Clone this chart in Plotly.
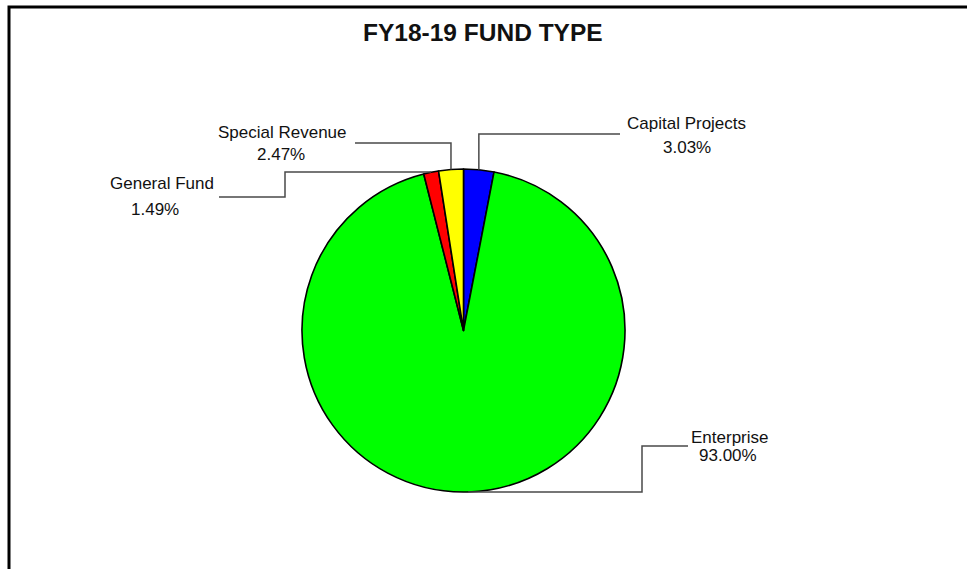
import math
import plotly.graph_objects as go

# ---- data ----
categories = ["Capital Projects", "Enterprise", "General Fund", "Special Revenue"]
values = [3.03, 93.00, 1.49, 2.47]
pct_labels = ["3.03%", "93.00%", "1.49%", "2.47%"]
colors = ["#0000FF", "#00FF00", "#FF0000", "#FFFF00"]
title_text = "FY18-19 FUND TYPE"

# ---- layout constants (pixels) ----
W, H = 967, 569
CX, CY, R = 463.5, 330.5, 161.5

def px(x):
    return x / W

def py(y):
    return 1 - y / H

fig = go.Figure()
fig.add_trace(go.Pie(
    labels=categories,
    values=values,
    sort=False,
    direction="clockwise",
    rotation=0,
    marker=dict(colors=colors, line=dict(color="#000000", width=1.6)),
    textinfo="none",
    hoverinfo="label+percent",
    showlegend=False,
    domain=dict(x=[px(CX - R), px(CX + R)], y=[py(CY + R), py(CY - R)]),
))

# leader-line anchor points on the slice edges, from the data
total = sum(values)
anchors = []
cum = 0.0
for v in values:
    th = 2 * math.pi * (cum + v / 2) / total
    anchors.append((CX + R * math.sin(th), CY - R * math.cos(th)))
    cum += v

# leader elbow paths (styling) per label
elbows = {
    "Capital Projects": [("v", 134), ("h", 620)],
    "Enterprise": [("h", 642), ("v", 446), ("h", 688)],
    "General Fund": [("h", 285), ("v", 197), ("h", 219)],
    "Special Revenue": [("v", 143), ("h", 355)],
}
label_pos = {
    "Capital Projects": ((686, 123), (687, 147)),
    "Enterprise": ((729, 437), (728, 455)),
    "General Fund": ((162, 183), (155, 209)),
    "Special Revenue": ((282, 132), (281, 154)),
}

shapes = []
for cat, (ax, ay) in zip(categories, anchors):
    x, y = ax, ay
    if cat == "General Fund":
        y = round(ay)
    path = f"M {px(x)} {py(y)}"
    for kind, val in elbows[cat]:
        if kind == "v":
            y = val
        else:
            x = val
        path += f" L {px(x)} {py(y)}"
    shapes.append(dict(type="path", xref="paper", yref="paper", path=path,
                       line=dict(color="#4a4a4a", width=1.5)))

# outer frame (top and left edges visible)
shapes.append(dict(type="rect", xref="paper", yref="paper",
                   x0=px(9), x1=px(1000), y0=py(620), y1=py(7),
                   line=dict(color="#000000", width=3)))

annotations = [dict(text=f"<b>{title_text}</b>", x=px(483), y=py(32), xref="paper", yref="paper",
                    showarrow=False, font=dict(size=24.5, color="#111111", family="Liberation Sans, Arial"),
                    xanchor="center", yanchor="middle")]
for cat, pct in zip(categories, pct_labels):
    (x1, y1), (x2, y2) = label_pos[cat]
    for t, x, y in ((cat, x1, y1), (pct, x2, y2)):
        annotations.append(dict(text=t, x=px(x), y=py(y), xref="paper", yref="paper",
                                showarrow=False, xanchor="center", yanchor="middle",
                                font=dict(size=17, color="#111111", family="Liberation Sans, Arial")))

fig.update_layout(
    width=W, height=H,
    margin=dict(l=0, r=0, t=0, b=0),
    paper_bgcolor="#FFFFFF",
    plot_bgcolor="#FFFFFF",
    shapes=shapes,
    annotations=annotations,
)

fig.write_html("out.html", config={"displayModeBar": False},
               post_script="document.body.style.margin='0';document.body.style.overflow='hidden';")
